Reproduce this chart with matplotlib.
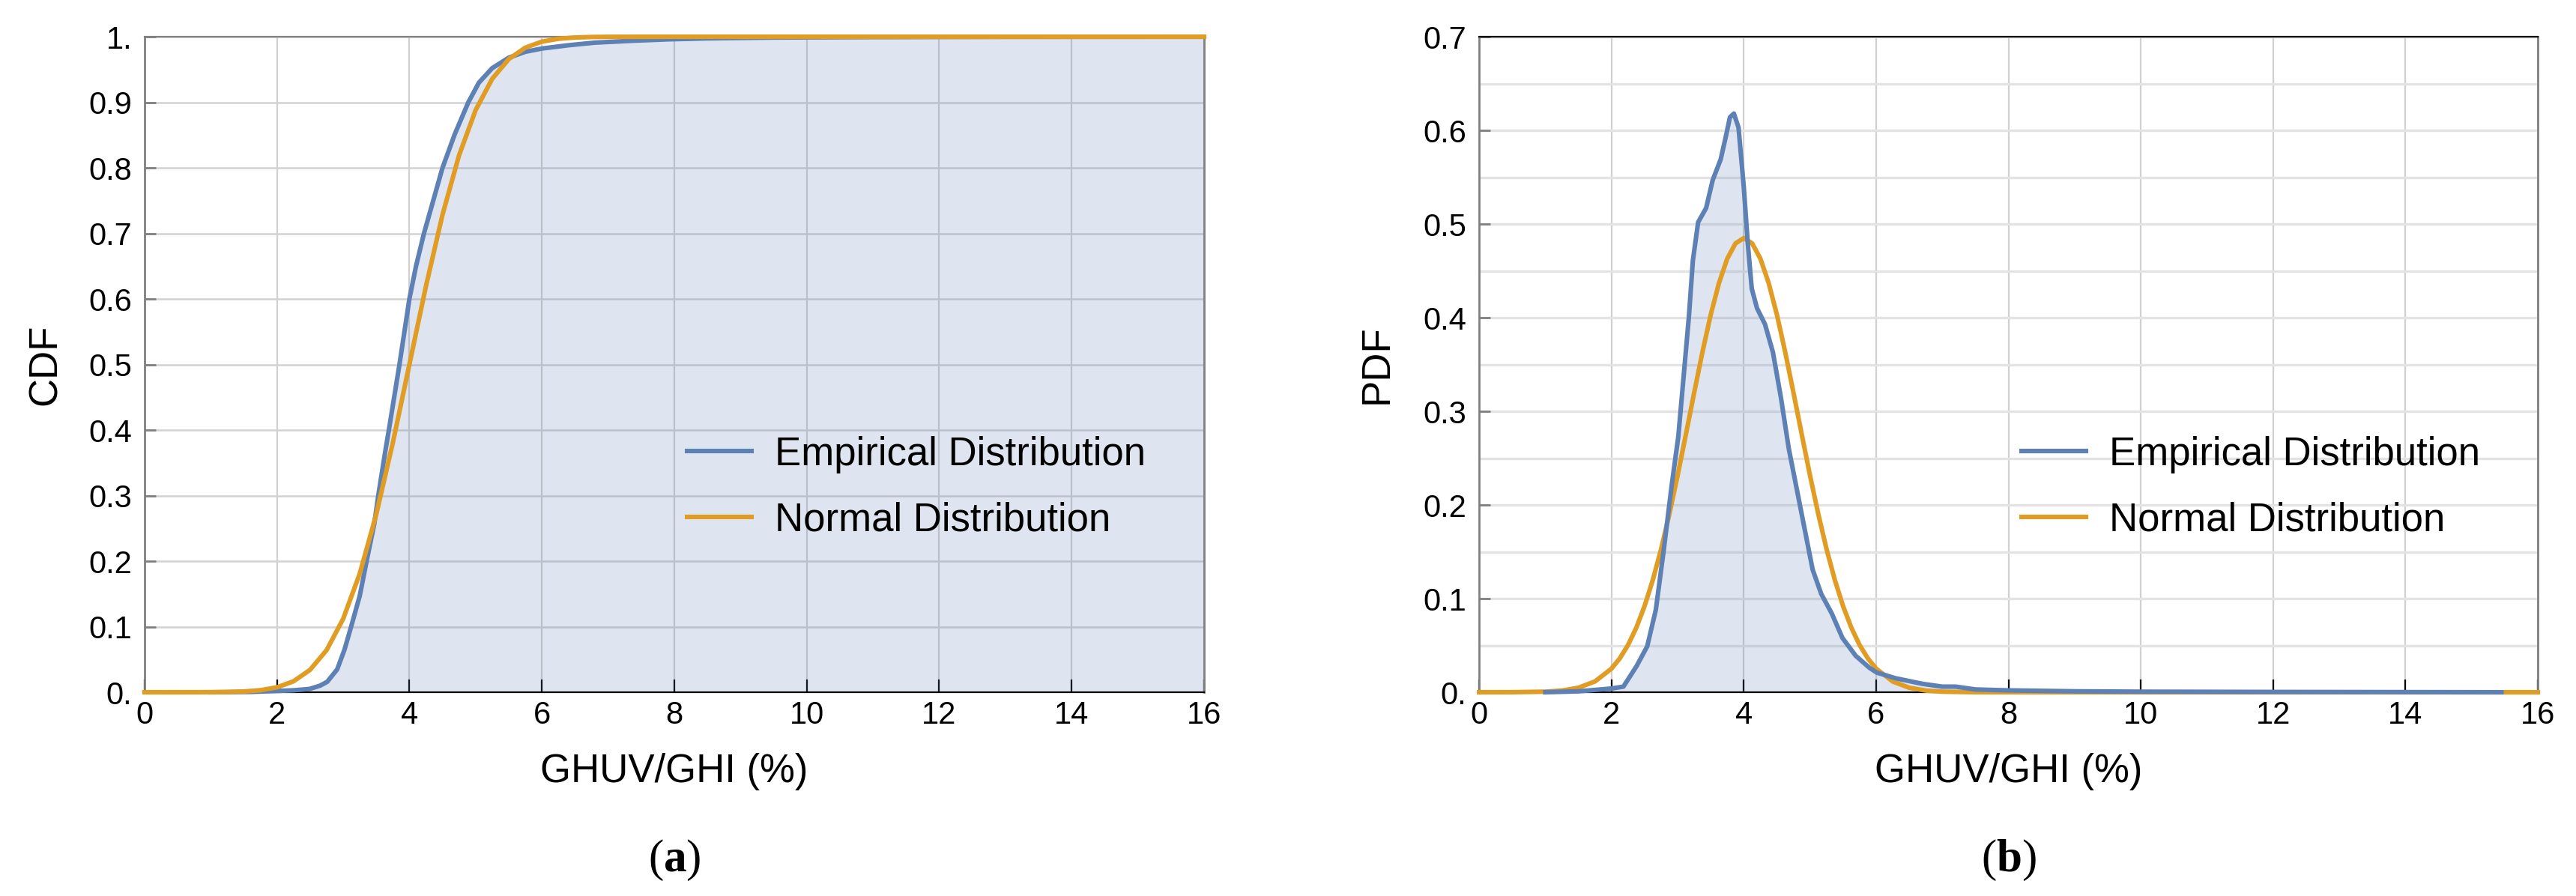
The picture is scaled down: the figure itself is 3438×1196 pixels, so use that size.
import matplotlib
matplotlib.use("Agg")
from matplotlib import pyplot as plt
from matplotlib.lines import Line2D

plt.rcParams['font.family'] = ['Liberation Sans', 'DejaVu Sans']
plt.rcParams['mathtext.fontset'] = 'custom'
plt.rcParams['mathtext.rm'] = 'Liberation Serif'
plt.rcParams['mathtext.bf'] = 'Liberation Serif:bold'

# ---- data ----
# (a) CDF
cdf_emp_x = [1.0, 1.6, 2.0, 2.25, 2.49, 2.65, 2.76, 2.91, 3.02, 3.12, 3.25, 3.36,
             3.47, 3.53, 3.64, 3.69, 3.85, 4.0, 4.1, 4.22, 4.36, 4.5, 4.68, 4.89,
             5.05, 5.25, 5.5, 5.75, 6.0, 6.4, 6.8, 7.4, 7.9, 8.5, 9.5, 11.0, 13.0, 16.0]
cdf_emp_y = [0.0, 0.0005, 0.002, 0.003, 0.005, 0.01, 0.016, 0.035, 0.065, 0.1, 0.147,
             0.203, 0.257, 0.3, 0.37, 0.4, 0.5, 0.6, 0.65, 0.7, 0.75, 0.8, 0.85, 0.9,
             0.93, 0.952, 0.968, 0.977, 0.982, 0.987, 0.991, 0.994, 0.996, 0.9975,
             0.9988, 0.9995, 0.9999, 1.0]

cdf_norm_x = [0.0, 0.5, 0.75, 1.0, 1.25, 1.5, 1.75, 2.0, 2.25, 2.5, 2.75, 3.0, 3.25,
              3.5, 3.75, 4.0, 4.25, 4.5, 4.75, 5.0, 5.25, 5.5, 5.75, 6.0, 6.25,
              6.5, 6.75, 7.0, 7.5, 8.0, 16.0]
cdf_norm_y = [0.0, 0.00001, 0.00004, 0.00013, 0.0004, 0.0012, 0.0031, 0.0075, 0.0167,
              0.0342, 0.0643, 0.112, 0.1809, 0.2716, 0.3806, 0.5, 0.6194, 0.7284,
              0.8191, 0.888, 0.9357, 0.9658, 0.9833, 0.9925, 0.9969, 0.9988, 0.9996,
              0.99987, 0.99999, 1.0, 1.0]

# (b) PDF
pdf_emp_x = [1.0, 1.5, 2.0, 2.18, 2.38, 2.54, 2.67, 2.79, 2.91, 3.01, 3.09, 3.17,
             3.23, 3.31, 3.43, 3.53, 3.65, 3.73, 3.79, 3.85, 3.92, 4.0, 4.06, 4.12,
             4.2, 4.32, 4.44, 4.56, 4.68, 4.8, 4.92, 5.04, 5.17, 5.33, 5.49, 5.69,
             5.9, 6.01, 6.29, 6.7, 7.0, 7.2, 7.5, 8.0, 9.0, 10.0, 12.0, 15.45]
pdf_emp_y = [0.0, 0.001, 0.004, 0.006, 0.028, 0.049, 0.088, 0.152, 0.221, 0.273,
             0.337, 0.401, 0.461, 0.502, 0.517, 0.547, 0.569, 0.594, 0.614, 0.618,
             0.603, 0.539, 0.479, 0.431, 0.41, 0.393, 0.363, 0.315, 0.26, 0.217,
             0.174, 0.131, 0.105, 0.084, 0.058, 0.039, 0.026, 0.021, 0.015, 0.009,
             0.006, 0.006, 0.003, 0.002, 0.001, 0.0006, 0.0003, 0.0]

pdf_norm_x = [0.0, 0.5, 1.0, 1.25, 1.5, 1.75, 2.0, 2.125, 2.25, 2.375, 2.5, 2.625,
              2.75, 2.875, 3.0, 3.125, 3.25, 3.375, 3.5, 3.625, 3.75, 3.875, 4.0,
              4.125, 4.25, 4.375, 4.5, 4.625, 4.75, 4.875, 5.0, 5.125, 5.25, 5.375,
              5.5, 5.625, 5.75, 5.875, 6.0, 6.25, 6.5, 6.75, 7.0, 7.5, 8.0, 16.0]
pdf_norm_y = [0.0, 0.00006, 0.0006, 0.0018, 0.0048, 0.0115, 0.0252, 0.0361, 0.0504,
              0.0689, 0.092, 0.12, 0.1529, 0.1904, 0.2316, 0.2755, 0.32, 0.3634,
              0.4032, 0.4371, 0.4631, 0.4794, 0.485, 0.4794, 0.4631, 0.4371, 0.4032,
              0.3634, 0.32, 0.2755, 0.2316, 0.1904, 0.1529, 0.12, 0.092, 0.0689,
              0.0504, 0.0361, 0.0252, 0.0115, 0.0048, 0.0018, 0.0006, 0.00006, 0.0, 0.0]

x_ticks = [0, 2, 4, 6, 8, 10, 12, 14, 16]
cdf_ticks = [0.0, 0.1, 0.2, 0.3, 0.4, 0.5, 0.6, 0.7, 0.8, 0.9, 1.0]
cdf_labels = ['0.', '0.1', '0.2', '0.3', '0.4', '0.5', '0.6', '0.7', '0.8', '0.9', '1.']
pdf_ticks = [0.0, 0.1, 0.2, 0.3, 0.4, 0.5, 0.6, 0.7]
pdf_labels = ['0.', '0.1', '0.2', '0.3', '0.4', '0.5', '0.6', '0.7']
pdf_minor = [0.05, 0.15, 0.25, 0.35, 0.45, 0.55, 0.65]

legend_labels = ['Empirical Distribution', 'Normal Distribution']

BLUE = '#5e81b5'
ORANGE = '#e19c24'
LW = 2.2

fig = plt.figure(figsize=(17.19, 5.98), dpi=200)
ax1 = fig.add_axes([0.0561, 0.2274, 0.4113, 0.7316])
ax2 = fig.add_axes([0.5742, 0.2274, 0.4110, 0.7316])


def style_axes(ax, yticks, ylabels, top_color):
    ax.set_xlim(0, 16)
    ax.set_xticks(x_ticks)
    ax.set_yticks(yticks)
    ax.set_yticklabels(ylabels)
    ax.set_axisbelow(True)
    ax.tick_params(axis='x', direction='in', length=6, width=0.8, color='black',
                   labelsize=15, pad=4, top=False)
    ax.tick_params(axis='y', direction='in', length=5.5, width=1.0, color='#808080',
                   labelsize=15, pad=6, right=False)
    ax.spines['left'].set_color('#808080')
    ax.spines['right'].set_color('#808080')
    ax.spines['left'].set_linewidth(1.0)
    ax.spines['right'].set_linewidth(1.0)
    ax.spines['bottom'].set_color('black')
    ax.spines['bottom'].set_linewidth(0.8)
    ax.spines['top'].set_color(top_color)
    ax.spines['top'].set_linewidth(0.8)
    ax.set_xlabel('GHUV/GHI (%)', fontsize=19)
    ax.xaxis.set_label_coords(0.5, -0.093)


def add_legend(ax):
    handles = [Line2D([], [], color=BLUE, lw=LW), Line2D([], [], color=ORANGE, lw=LW)]
    ax.legend(handles, legend_labels, loc='upper left', bbox_to_anchor=(0.512, 0.391),
              frameon=False, fontsize=19, borderpad=0, borderaxespad=0,
              handlelength=1.63, handletextpad=0.59, labelspacing=0.71)


# ---- (a) CDF ----
style_axes(ax1, cdf_ticks, cdf_labels, '#808080')
ax1.set_ylim(0, 1)
ax1.grid(True, which='major', axis='y', color='#d2d2d2', lw=0.9)
ax1.grid(True, which='major', axis='x', color='#d0d0d0', lw=0.8)
ax1.fill_between(cdf_emp_x, cdf_emp_y, 0, color=BLUE, alpha=0.2, lw=0, zorder=1)
ax1.plot(cdf_emp_x, cdf_emp_y, color=BLUE, lw=LW, zorder=3, clip_on=False)
ax1.plot(cdf_norm_x, cdf_norm_y, color=ORANGE, lw=LW, zorder=4, clip_on=False)
ax1.set_ylabel('CDF', fontsize=19)
ax1.yaxis.set_label_coords(-0.076, 0.5)
add_legend(ax1)

# ---- (b) PDF ----
style_axes(ax2, pdf_ticks, pdf_labels, 'black')
ax2.set_ylim(0, 0.7)
ax2.set_yticks(pdf_minor, minor=True)
ax2.tick_params(axis='y', which='minor', length=0)
ax2.grid(True, which='both', axis='y', color='#e3e3e3', lw=1.2)
ax2.grid(True, which='major', axis='x', color='#d0d0d0', lw=0.8)
ax2.fill_between(pdf_emp_x, pdf_emp_y, 0, color=BLUE, alpha=0.2, lw=0, zorder=1)
ax2.plot(pdf_norm_x, pdf_norm_y, color=ORANGE, lw=LW, zorder=3, clip_on=False)
ax2.plot(pdf_emp_x, pdf_emp_y, color=BLUE, lw=LW, zorder=4, clip_on=False)
ax2.set_ylabel('PDF', fontsize=19)
ax2.yaxis.set_label_coords(-0.079, 0.5)
add_legend(ax2)

# panel labels
fig.text(0.2618, 0.040, r'($\mathbf{a}$)', fontsize=22, family='Liberation Serif',
         ha='center', va='center')
fig.text(0.7797, 0.040, r'($\mathbf{b}$)', fontsize=22, family='Liberation Serif',
         ha='center', va='center')

fig.savefig('out.png', dpi=200)
